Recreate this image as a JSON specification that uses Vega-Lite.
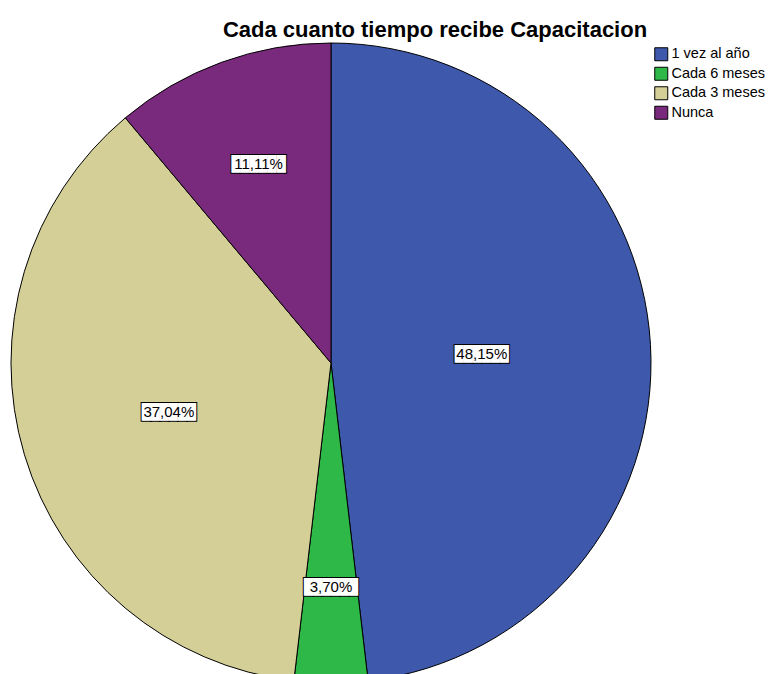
{
  "$schema": "https://vega.github.io/schema/vega-lite/v6.json",
  "width": 662,
  "height": 640,
  "autosize": "none",
  "padding": {"left": 0, "top": 43, "right": 106, "bottom": 0},
  "background": "white",
  "title": {
    "text": "Cada cuanto tiempo recibe Capacitacion",
    "font": "Liberation Sans",
    "fontSize": 22,
    "fontWeight": "bold",
    "color": "black",
    "anchor": "middle",
    "frame": "group",
    "dx": 104,
    "offset": -1
  },
  "data": {
    "values": [
      {"categoria": "1 vez al año", "pct": 48.15, "orden": 1, "etiqueta": "48,15%"},
      {"categoria": "Cada 6 meses", "pct": 3.70, "orden": 2, "etiqueta": "3,70%"},
      {"categoria": "Cada 3 meses", "pct": 37.04, "orden": 3, "etiqueta": "37,04%"},
      {"categoria": "Nunca", "pct": 11.11, "orden": 4, "etiqueta": "11,11%"}
    ]
  },
  "encoding": {
    "theta": {"field": "pct", "type": "quantitative", "stack": true},
    "order": {"field": "orden", "type": "quantitative"}
  },
  "layer": [
    {
      "mark": {"type": "arc", "outerRadius": 320, "stroke": "black", "strokeWidth": 1},
      "encoding": {
        "color": {
          "field": "categoria",
          "type": "nominal",
          "sort": ["1 vez al año", "Cada 6 meses", "Cada 3 meses", "Nunca"],
          "scale": {
            "domain": ["1 vez al año", "Cada 6 meses", "Cada 3 meses", "Nunca"],
            "range": ["#3E58AC", "#2EB848", "#D4CE97", "#7A2A7C"]
          },
          "legend": {
            "title": null,
            "orient": "none",
            "legendX": 654,
            "legendY": 4,
            "padding": 0,
            "symbolType": "square",
            "symbolSize": 169,
            "symbolStrokeColor": "black",
            "symbolStrokeWidth": 1,
            "symbolOpacity": 1,
            "labelFont": "Liberation Sans",
            "labelFontSize": 14.5,
            "labelColor": "black",
            "labelOffset": 3,
            "labelLimit": 0,
            "rowPadding": 1.5
          }
        }
      }
    },
    {
      "mark": {"type": "text", "font": "DejaVu Sans Mono", "fontSize": 15, "text": "██████", "fill": "black", "stroke": "black", "strokeWidth": 2, "align": "center", "baseline": "middle"},
      "encoding": {
        "radius": {"field": "pct", "type": "quantitative", "scale": {"type": "linear", "zero": false, "domain": [0, 50], "range": [230, 148]}}
      }
    },
    {
      "mark": {"type": "text", "font": "DejaVu Sans Mono", "fontSize": 15, "text": "██████", "fill": "white", "align": "center", "baseline": "middle"},
      "encoding": {
        "radius": {"field": "pct", "type": "quantitative", "scale": {"type": "linear", "zero": false, "domain": [0, 50], "range": [230, 148]}}
      }
    },
    {
      "mark": {"type": "text", "font": "Liberation Sans", "fontSize": 15, "fill": "black", "align": "center", "baseline": "middle"},
      "encoding": {
        "text": {"field": "etiqueta", "type": "nominal"},
        "radius": {"field": "pct", "type": "quantitative", "scale": {"type": "linear", "zero": false, "domain": [0, 50], "range": [230, 148]}}
      }
    }
  ],
  "config": {"view": {"stroke": null}}
}
